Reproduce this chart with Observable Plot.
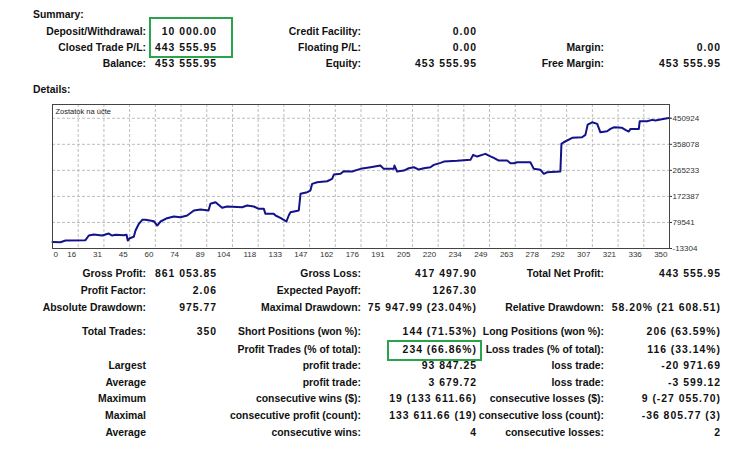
<!DOCTYPE html>
<html>
<head>
<meta charset="utf-8">
<script src="https://cdn.jsdelivr.net/npm/d3@7"></script>
<script src="https://cdn.jsdelivr.net/npm/@observablehq/plot@0.6"></script>
<style>
  html, body { margin: 0; padding: 0; background: #fff; }
  #page { position: relative; width: 744px; height: 450px; overflow: hidden;
          font-family: "Liberation Sans", Arial, sans-serif; color: #111; }
  .cell { position: absolute; font-size: 10.4px; font-weight: bold; line-height: 14px; white-space: nowrap; }
  .val { letter-spacing: 1px; margin-right: -1px; }
  .box { position: absolute; border: 2.5px solid #2ba24c; box-sizing: border-box; }
  #chart { position: absolute; left: 0; top: 100px; }
</style>
</head>
<body>
<div id="page">
  <div id="chart"></div>
</div>
<script>
// ---------- Data ----------
const summaryRows = [
  ["Deposit/Withdrawal:", "10 000.00", "Credit Facility:", "0.00", "", ""],
  ["Closed Trade P/L:", "443 555.95", "Floating P/L:", "0.00", "Margin:", "0.00"],
  ["Balance:", "453 555.95", "Equity:", "453 555.95", "Free Margin:", "453 555.95"]
];
const detailRows = [
  ["Gross Profit:", "861 053.85", "Gross Loss:", "417 497.90", "Total Net Profit:", "443 555.95"],
  ["Profit Factor:", "2.06", "Expected Payoff:", "1267.30", "", ""],
  ["Absolute Drawdown:", "975.77", "Maximal Drawdown:", "75 947.99 (23.04%)", "Relative Drawdown:", "58.20% (21 608.51)"],
  ["Total Trades:", "350", "Short Positions (won %):", "144 (71.53%)", "Long Positions (won %):", "206 (63.59%)"],
  ["", "", "Profit Trades (% of total):", "234 (66.86%)", "Loss trades (% of total):", "116 (33.14%)"],
  ["Largest", "", "profit trade:", "93 847.25", "loss trade:", "-20 971.69"],
  ["Average", "", "profit trade:", "3 679.72", "loss trade:", "-3 599.12"],
  ["Maximum", "", "consecutive wins ($):", "19 (133 611.66)", "consecutive losses ($):", "9 (-27 055.70)"],
  ["Maximal", "", "consecutive profit (count):", "133 611.66 (19)", "consecutive loss (count):", "-36 805.77 (3)"],
  ["Average", "", "consecutive wins:", "4", "consecutive losses:", "2"]
];
const chartTitle = "Zostatok na účte";
const xTickLabels = ["0","16","31","45","60","74","89","104","118","133","147","162","176","191","205","220","234","249","263","278","292","307","321","336","350"];
const yTickValues = [-13304, 79541, 172387, 265233, 358078, 450924];

const balanceTrades = [0,4.5,7.4,18.7,20.6,23.4,28.2,31.9,33.9,35.7,40.4,42,42.7,43.8,46.1,47.1,49,50.9,52.8,57.5,59.4,61.3,65,68.8,72.6,76.4,80.2,84,88.5,89.6,92.5,96.2,99.1,107.6,110.4,114.2,117,119.9,120.8,125.5,126.5,129.3,131.2,132.7,134,135,139.7,140.7,144.5,146.3,147.3,150.1,155.8,158.6,159.6,163.4,165.2,170,172.8,174.7,180.4,186,187.9,193.6,194,195.5,199.3,202.1,205,207.8,210.6,214.4,216.3,220.1,222,229.5,237.1,238.6,240.9,243.7,245.6,247.5,250.3,253.2,257.9,259.8,261.7,263.6,271.1,273,276.8,278.7,280.6,288.1,288.7,290,294.8,300.4,302.3,303.6,306.1,309,310.8,314.6,316.5,318.4,323.1,325,326.9,327.9,332.6,333.1,337.3,340.2,342,344.9,348.7,350];
const balanceValues = [10000,9100,15200,16300,33000,36600,33000,40100,33000,35500,34100,35500,15200,23400,28400,50800,74700,88900,88900,84000,68600,82900,94600,100700,98200,104300,122100,125600,122100,146000,151600,131700,136300,133800,139900,136300,128100,128100,110300,110300,104300,96100,88900,82900,104300,116000,122100,181600,187300,193300,217200,222900,226500,235000,250300,252800,262100,261000,267100,270600,276300,282400,270600,270600,282400,261000,264600,272800,276300,268100,272800,276300,284900,292000,296600,299100,302700,320500,314400,320500,324100,318000,309800,300200,300200,290600,290600,294100,294100,270600,267100,252800,258500,261000,359700,365400,381100,383200,391800,428500,436600,430900,401000,404600,413100,418800,416700,409600,403500,413100,413100,440200,440200,445200,442700,446200,450900,451500];

// ---------- Text tables ----------
const page = document.getElementById("page");
const colRights = [146, 216, 361, 476, 604, 720];
function addText(txt, x, y, align, cls) {
  if (!txt) return;
  const d = document.createElement("div");
  d.className = "cell " + (cls || "");
  d.textContent = txt;
  d.style.top = (y - 7) + "px";
  if (align === "right") d.style.right = (744 - x) + "px";
  else d.style.left = x + "px";
  page.appendChild(d);
}
addText("Summary:", 33, 15, "left");
addText("Details:", 33, 90, "left");
const summaryY = [31.5, 48, 64];
summaryRows.forEach((r, i) => r.forEach((t, j) => addText(t, colRights[j], summaryY[i], "right", j % 2 ? "val" : "")));
const detailY = [274, 291, 307.5, 331.5, 349.5, 366, 382.7, 399.3, 415.7, 432.7];
detailRows.forEach((r, i) => r.forEach((t, j) => addText(t, colRights[j], detailY[i], "right", j % 2 ? "val" : "")));

function addBox(l, t, w, h) {
  const b = document.createElement("div");
  b.className = "box";
  Object.assign(b.style, {left: l + "px", top: t + "px", width: w + "px", height: h + "px"});
  page.appendChild(b);
}
addBox(149, 17, 84, 41);
addBox(387, 340, 95, 21);

// ---------- Chart ----------
const data = balanceTrades.map((t, i) => ({trade: t, balance: balanceValues[i]}));
const xTickPos = xTickLabels.map((_, i) => i * 350 / 24);
const labelOf = new Map(xTickPos.map((p, i) => [p, xTickLabels[i]]));

const chart = Plot.plot({
  width: 744,
  height: 162,
  marginLeft: 52,
  marginRight: 75,
  marginTop: 4,
  marginBottom: 14,
  style: {fontFamily: "'Liberation Sans', Arial, sans-serif", fontSize: "8px", color: "#333", background: "transparent", overflow: "visible"},
  x: {domain: [0, 350]},
  y: {domain: [-13304, 500000]},
  marks: [
    Plot.gridX(xTickPos, {stroke: "#bdbdbd", strokeOpacity: 1, strokeDasharray: "3,2"}),
    Plot.gridY(yTickValues, {stroke: "#bdbdbd", strokeOpacity: 1, strokeDasharray: "3,2"}),
    Plot.line(data, {x: "trade", y: "balance", stroke: "#12128a", strokeWidth: 2}),
    Plot.frame({stroke: "#444"}),
    Plot.axisX([xTickPos[0]], {tickSize: 0, tickPadding: 3, textAnchor: "start", dx: 1, tickFormat: d => labelOf.get(d), label: null}),
    Plot.axisX(xTickPos.slice(1), {tickSize: 0, tickPadding: 3, textAnchor: "end", dx: -2, tickFormat: d => labelOf.get(d), label: null}),
    Plot.axisY(yTickValues, {anchor: "right", tickSize: 2, tickPadding: 1, tickFormat: d => String(d), label: null}),
    Plot.text([chartTitle], {frameAnchor: "top-left", dx: 3, dy: 4, fill: "#222", fontSize: 7.5, textAnchor: "start", lineAnchor: "top"})
  ]
});
document.getElementById("chart").appendChild(chart);
</script>
</body>
</html>
